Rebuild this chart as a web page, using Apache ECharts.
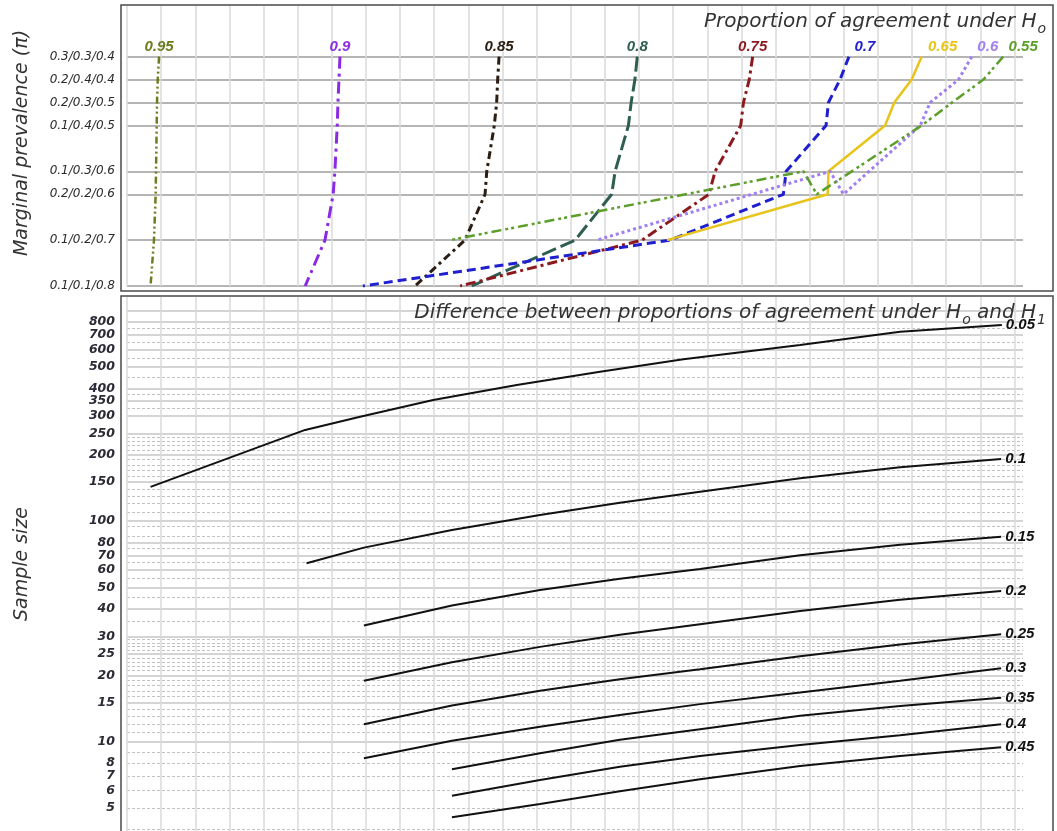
<!DOCTYPE html>
<html><head><meta charset="utf-8">
<script src="https://cdn.jsdelivr.net/npm/echarts@6/dist/echarts.min.js"></script>
<style>html,body{margin:0;padding:0;background:#fff}#c{width:1057px;height:831px}</style>
</head><body><div id="c"></div>
<script>
// ---------- top panel: marginal prevalence categories ----------
const prevalence = ['0.3/0.3/0.4','0.2/0.4/0.4','0.2/0.3/0.5','0.1/0.4/0.5','0.1/0.3/0.6','0.2/0.2/0.6','0.1/0.2/0.7','0.1/0.1/0.8'];
const prevalencePos = [10, 9, 8, 7, 5, 4, 2, 0];
const agreementH0 = ['0.95','0.9','0.85','0.8','0.75','0.7','0.65','0.6','0.55'];
// x position (nomogram scale) of each curve, aligned with prevalence
const x095 = [0.94, 0.90, 0.88, 0.87, 0.85, 0.84, 0.79, 0.69];
const x090 = [6.24, 6.21, 6.18, 6.16, 6.09, 6.04, 5.80, 5.22];
const x085 = [10.90, 10.86, 10.83, 10.76, 10.54, 10.49, 9.90, 8.44];
const x080 = [14.95, 14.88, 14.77, 14.69, 14.30, 14.20, 13.13, 10.10];
const x075 = [18.33, 18.23, 18.06, 17.98, 17.23, 17.05, 15.09, 9.76];
const x070 = [21.15, 20.89, 20.55, 20.48, 19.31, 19.23, 15.91, 6.91];
const x065 = [23.28, 22.99, 22.48, 22.21, 20.55, 20.53, 15.82, null];
const x060 = [24.75, 24.36, 23.53, 23.24, 20.60, 20.99, 13.76, null];
const x055 = [25.67, 25.09, 24.17, 23.28, 19.82, 20.21, 9.46, null];
const orderStd = [0, 1, 2, 3, 4, 5, 6, 7];
const orderAlt = [0, 1, 2, 3, 5, 4, 6, 7];

// ---------- bottom panel: sample size curves ----------
const diffLabels = ['0.05','0.1','0.15','0.2','0.25','0.3','0.35','0.4','0.45'];
const xD005 = [0.69, 5.22, 6.83, 8.97, 11.42, 13.86, 16.30, 19.72, 22.65, 25.63];
const nD005 = [143, 259, 297, 354, 414, 475, 541, 628, 722, 774];
const xD010 = [5.26, 6.94, 9.52, 12.10, 14.44, 16.79, 19.72, 22.65, 25.61];
const nD010 = [64.4, 75.8, 91.1, 106.6, 121.2, 135.9, 156.3, 175.4, 191.2];
const xD015to030 = [6.94, 9.52, 12.10, 14.44, 16.79, 19.72, 22.65, 25.61];
const nD015 = [33.6, 41.4, 48.7, 54.8, 60.7, 70.0, 78.2, 85.0];
const nD020 = [18.9, 22.9, 26.9, 30.5, 34.1, 39.1, 44.0, 48.2];
const nD025 = [12.0, 14.6, 17.0, 19.2, 21.3, 24.4, 27.6, 30.7];
const nD030 = [8.41, 10.1, 11.7, 13.2, 14.8, 16.7, 18.9, 21.5];
const xD035to045 = [9.52, 12.10, 14.44, 16.79, 19.72, 22.65, 25.61];
const nD035 = [7.5, 8.86, 10.2, 11.4, 13.1, 14.5, 15.8];
const nD040 = [5.69, 6.71, 7.70, 8.61, 9.66, 10.7, 12.0];
const nD045 = [4.54, 5.22, 5.96, 6.75, 7.76, 8.61, 9.43];

// ---------- axis ticks ----------
const sizeLabels = [800,700,600,500,400,350,300,250,200,150,100,80,70,60,50,40,30,25,20,15,10,8,7,6,5];
const sizeMajorLines = [900,800,700,600,500,400,350,300,250,200,150,100,80,70,60,50,40,30,25,20,15,10];
const sizeMinorLines = [750,650,550,450,375,325,240,230,220,210,190,180,170,160,140,130,120,110,95,85,75,65,55,45,35,29,28,27,26,24,23,22,21,19,18,17,16,14,13,12,11,9,8,7,6,5,4];
const xGridTicks = [0,1,2,3,4,5,6,7,8,9,10,11,12,13,14,15,16,17,18,19,20,21,22,23,24,25,26];

// ---------- styles ----------
const topX = [x095, x090, x085, x080, x075, x070, x065, x060, x055];
const topOrder = [orderStd, orderStd, orderStd, orderStd, orderStd, orderStd, orderStd, orderAlt, orderAlt];
const topColors = ['#6b7d1e','#8a2be2','#2b1d12','#2e5e52','#8b1a1f','#1f1fd0','#e8c41a','#a07ff0','#5c9e2a'];
const topDash = [[7,3,2,3,2,3],[12,5,3,5],[8,4,3,4],[15,5],[10,4,3,4],[9,5],'solid',[3,3],[10,4,3,3,3,4]];
const topWidth = [2.5,3,3,3,3,3,2.5,3,2.5];
const topLabelDx = [0,0,0,0,0,16,21,16,20];
const bottomX = [xD005, xD010, xD015to030, xD015to030, xD015to030, xD015to030, xD035to045, xD035to045, xD035to045];
const bottomN = [nD005, nD010, nD015, nD020, nD025, nD030, nD035, nD040, nD045];

const series = [];
agreementH0.forEach((name, i) => {
  const xs = topX[i];
  const pts = topOrder[i].filter(k => xs[k] != null);
  const first = [xs[pts[0]], prevalencePos[pts[0]]];
  series.push({
    type: 'line', name, xAxisIndex: 0, yAxisIndex: 0,
    symbol: 'none', showSymbol: false, silent: true, animation: false,
    lineStyle: { color: topColors[i], width: topWidth[i], type: topDash[i] },
    data: pts.map(k => [xs[k], prevalencePos[k]]),
    markPoint: {
      silent: true, animation: false, symbol: 'circle', symbolSize: 0,
      itemStyle: { color: 'transparent' },
      label: { show: true, position: 'top', distance: 2, offset: [topLabelDx[i], 0],
        formatter: name, color: topColors[i], fontStyle: 'italic', fontWeight: 'bold',
        fontSize: 15, fontFamily: 'Liberation Sans' },
      data: [{ coord: first }]
    }
  });
});
diffLabels.forEach((name, i) => {
  series.push({
    type: 'line', name, xAxisIndex: 1, yAxisIndex: 1,
    symbol: 'none', showSymbol: false, silent: true, animation: false,
    lineStyle: { color: '#111', width: 2 },
    endLabel: { show: true, formatter: '{a}', distance: 4, color: '#111', fontStyle: 'italic',
      fontWeight: 'bold', fontSize: 15, fontFamily: 'Liberation Sans' },
    data: bottomX[i].map((x, j) => [x, bottomN[i][j]])
  });
});

const xAxisCommon = {
  type: 'value', min: 0, max: 26.25, interval: 1,
  axisLine: { show: false }, axisTick: { show: false, customValues: xGridTicks }, axisLabel: { show: false },
  splitLine: { show: true, lineStyle: { color: '#dadada', width: 1.5 } }
};
const titleRich = {
  a: { fontFamily: 'DejaVu Sans', fontStyle: 'italic', fontWeight: 'normal', fontSize: 20, color: '#333' },
  b: { fontFamily: 'DejaVu Sans', fontStyle: 'italic', fontWeight: 'normal', fontSize: 14, color: '#333', padding: [14, 0, 0, 1] }
};
const sizeLabelStyle = {
  margin: 12, showMinLabel: true, showMaxLabel: true, interval: 0,
  formatter: v => String(Math.round(v)),
  fontFamily: 'DejaVu Sans', fontStyle: 'italic', fontWeight: 'bold', fontSize: 12.5, color: '#2b2a35'
};

const chart = echarts.init(document.getElementById('c'), null, { renderer: 'canvas' });
chart.setOption({
  backgroundColor: '#fff',
  animation: false,
  title: [
    { text: '{a|Proportion of agreement under H}{b|o}', right: 6, top: 3,
      textStyle: { fontWeight: 'normal', rich: titleRich } },
    { text: '{a|Difference between proportions of agreement under H}{b|o}{a| and H}{b|1}', right: 6, top: 294,
      textStyle: { fontWeight: 'normal', rich: titleRich } }
  ],
  grid: [
    { left: 127, width: 896, top: 6, height: 280 },
    { left: 127, width: 896, top: 297, height: 534 }
  ],
  xAxis: [
    Object.assign({ gridIndex: 0 }, xAxisCommon),
    Object.assign({ gridIndex: 1 }, xAxisCommon)
  ],
  yAxis: [
    { gridIndex: 0, type: 'value', min: 0, max: 12.21,
      axisLine: { show: false }, axisTick: { show: false, customValues: prevalencePos },
      axisLabel: { customValues: prevalencePos, margin: 12, showMinLabel: true, showMaxLabel: true,
        formatter: v => prevalence[prevalencePos.indexOf(Math.round(v))] || '',
        fontFamily: 'DejaVu Sans', fontStyle: 'italic', fontSize: 12, color: '#2a2a2a' },
      splitLine: { show: true, lineStyle: { color: '#b5b5b5', width: 2 } } },
    { gridIndex: 1, type: 'log', min: 3.937, max: 1037,
      axisLine: { show: false }, axisTick: { show: false, customValues: sizeMajorLines },
      axisLabel: Object.assign({ customValues: sizeLabels.slice(1) }, sizeLabelStyle),
      splitLine: { show: true, lineStyle: { color: '#c6c6c6', width: 1.5 } } },
    { gridIndex: 1, type: 'log', min: 3.937, max: 1037, position: 'right',
      axisLine: { show: false }, axisTick: { show: false, customValues: sizeMinorLines },
      axisLabel: { show: false },
      splitLine: { show: true, lineStyle: { color: '#c2c2c2', width: 1, type: [3, 2] } } },
    { gridIndex: 1, type: 'log', min: 3.937, max: 1037, position: 'left',
      axisLine: { show: false }, axisTick: { show: false },
      axisLabel: Object.assign({ customValues: sizeLabels.slice(0, 1) }, sizeLabelStyle),
      splitLine: { show: false } }
  ],
  graphic: [
    { type: 'rect', z: 100, shape: { x: 121, y: 5, width: 932, height: 286 },
      style: { fill: 'none', stroke: '#4a4a4a', lineWidth: 1.5 } },
    { type: 'rect', z: 100, shape: { x: 121, y: 296, width: 932, height: 545 },
      style: { fill: 'none', stroke: '#4a4a4a', lineWidth: 1.5 } },
    { type: 'text', z: 100, x: 22, y: 143, rotation: Math.PI / 2,
      style: { text: 'Marginal prevalence (π)', fontFamily: 'DejaVu Sans', fontStyle: 'italic', fontSize: 19,
        fill: '#333', textAlign: 'center', textVerticalAlign: 'middle' } },
    { type: 'text', z: 100, x: 22, y: 564, rotation: Math.PI / 2,
      style: { text: 'Sample size', fontFamily: 'DejaVu Sans', fontStyle: 'italic', fontSize: 19,
        fill: '#333', textAlign: 'center', textVerticalAlign: 'middle' } }
  ],
  series
});
</script>
</body></html>
